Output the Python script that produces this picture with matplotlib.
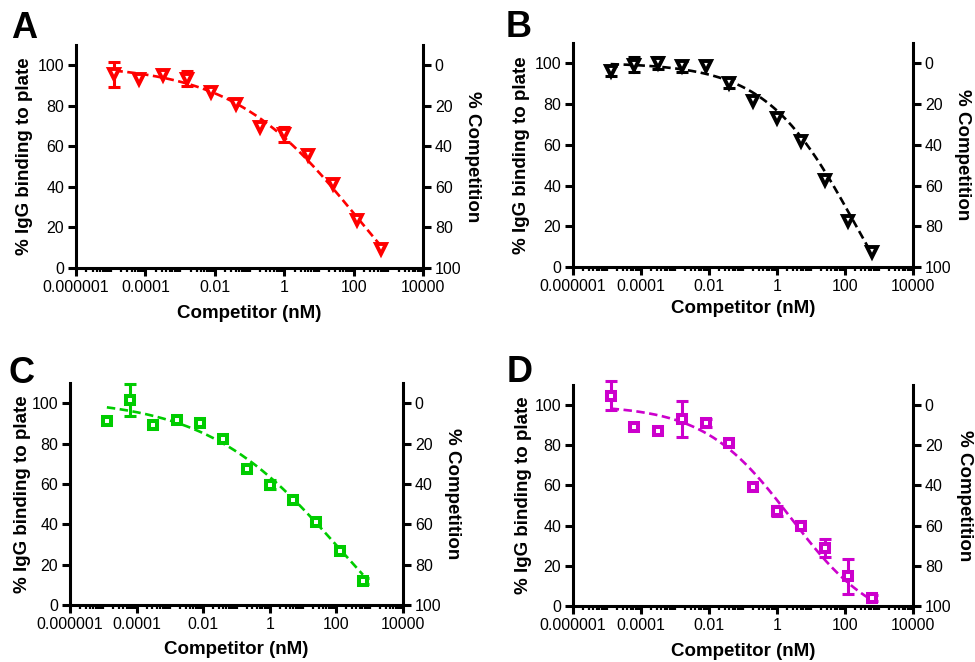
import numpy as np
import matplotlib
matplotlib.use("Agg")
import matplotlib.pyplot as plt
from matplotlib.ticker import LogLocator, FixedLocator, FixedFormatter, NullFormatter

plt.rcParams['font.family'] = ['Liberation Sans', 'DejaVu Sans']

# ---------------- data ----------------
conc_nM = [1.28e-5, 6.4e-5, 3.2e-4, 1.6e-3, 8e-3, 0.04, 0.2, 1, 5, 25, 125, 625]

binding_A = [95.6, 93.1, 95.4, 93.4, 86.6, 80.7, 69.7, 65.9, 55.6, 41.2, 23.9, 9.6]
error_A = [6.2, 0, 0, 3.7, 0, 0, 0, 3.7, 0, 0, 0, 0]

binding_B = [96.2, 99.4, 100.2, 98.5, 98.7, 90.4, 81.4, 73.3, 61.8, 42.9, 22.7, 7.6]
error_B = [2.5, 3.5, 3.0, 2.5, 0, 2.5, 0, 0, 0, 0, 0, 0]

binding_C = [91.2, 101.5, 89.2, 91.7, 90.0, 82.1, 67.2, 59.7, 52.2, 41.1, 27.0, 11.9]
error_C = [0, 7.8, 0, 0, 0, 0, 0, 2.0, 0, 0, 0, 1.5]

binding_D = [104.7, 89.2, 87.2, 93.0, 91.2, 81.3, 59.3, 47.2, 39.7, 28.8, 14.7, 3.8]
error_D = [7.3, 0, 0, 9.1, 2.0, 0, 0, 2.5, 0, 4.6, 8.9, 1.5]

# fitted four-parameter logistic curves: top, bottom, logIC50, hill slope
fit_top = [100.5, 100.3, 102.5, 100.0]
fit_bottom = [-50.5, -58.3, -47.0, -12.0]
fit_logic50 = [2.1, 2.3, 2.1, 0.4]
fit_hill = [0.239, 0.33, 0.215, 0.34]

panel_letters = ['A', 'B', 'C', 'D']
panel_colors = ['#FF0000', '#000000', '#00CC00', '#CC00CC']
panel_markers = ['v', 'v', 's', 's']

x_ticks = [1e-6, 1e-4, 1e-2, 1, 100, 1e4]
x_ticklabels = ['0.000001', '0.0001', '0.01', '1', '100', '10000']
y_ticks = [0, 20, 40, 60, 80, 100]
comp_ticks = [0, 20, 40, 60, 80, 100]

x_label = 'Competitor (nM)'
y_label = '% IgG binding to plate'
y2_label = '% Competition'

# ---------------- layout (pixel geometry of the 975x662 figure) ----------------
W, H = 975, 662
# left, right, top(y=110), bottom(y=0) in pixels
axes_px = [(76, 423, 45, 268), (573, 913, 43, 267), (70, 403, 383, 605), (573, 913, 385, 606)]
letter_px = [(11, 38), (506, 37), (9, 383), (507, 382)]
ylab_px = [25, 522, 23, 524]
y2lab_px = [472, 962, 453, 965]
xlab_py = [313, 309, 650, 651]

fig = plt.figure(figsize=(W / 100, H / 100), dpi=100)

LW = 2.2
TICK_FS = 11.5
LAB_FS = 13.5


def fx(px):
    return px / W


def fy(py):
    return 1 - py / H


for i in range(4):
    l, r, t, b = axes_px[i]
    ax = fig.add_axes([fx(l), fy(b), (r - l) / W, (b - t) / H])
    color = panel_colors[i]
    x = np.array(conc_nM)
    y = np.array([binding_A, binding_B, binding_C, binding_D][i])
    e = np.array([error_A, error_B, error_C, error_D][i])

    ax.set_xscale('log')
    ax.set_xlim(1e-6, 1e4)
    ax.set_ylim(0, 110)
    ax.patch.set_alpha(0)

    # fitted curve
    xs = np.logspace(np.log10(x[0]), np.log10(x[-1]), 300)
    T, Bt, L, h = fit_top[i], fit_bottom[i], fit_logic50[i], fit_hill[i]
    ys = Bt + (T - Bt) / (1 + 10 ** (h * (np.log10(xs) - L)))
    ax.plot(xs, ys, color=color, lw=1.9, linestyle=(0, (3.2, 1.7)), zorder=2)

    # error bars (only where an error is visible)
    m = e > 0
    ax.errorbar(x[m], y[m], yerr=e[m], fmt='none', ecolor=color, elinewidth=LW,
                capsize=4.6, capthick=LW, zorder=3, clip_on=False)
    if panel_markers[i] == 'v':
        ax.plot(x, y, linestyle='none', marker='v', ms=7.6, mfc='white', mec=color,
                mew=2.8, zorder=4, clip_on=False)
    else:
        ax.plot(x, y, linestyle='none', marker='s', ms=5.8, mfc='white', mec=color,
                mew=2.9, zorder=4, clip_on=False)

    for s in ['top', 'right']:
        ax.spines[s].set_visible(False)
    for s in ['left', 'bottom']:
        ax.spines[s].set_linewidth(LW)

    ax.xaxis.set_major_locator(FixedLocator(x_ticks))
    ax.xaxis.set_major_formatter(FixedFormatter(x_ticklabels))
    ax.xaxis.set_minor_locator(LogLocator(base=10, subs=np.arange(1, 10), numticks=200))
    ax.xaxis.set_minor_formatter(NullFormatter())
    ax.set_yticks(y_ticks)
    ax.tick_params(axis='both', which='major', direction='out', length=5.5, width=LW,
                   labelsize=TICK_FS, pad=3)
    ax.tick_params(axis='x', which='minor', direction='out', length=3.2, width=1.6)
    ax.tick_params(axis='y', which='minor', left=False)

    ax2 = ax.twinx()
    ax2.set_ylim(100, -10)
    ax2.set_yticks(comp_ticks)
    for s in ['top', 'left', 'bottom']:
        ax2.spines[s].set_visible(False)
    ax2.spines['right'].set_linewidth(LW)
    ax2.tick_params(axis='y', which='major', direction='out', length=5.5, width=LW,
                    labelsize=TICK_FS, pad=3)

    # labels
    fig.text(fx(ylab_px[i]), fy((t + b) / 2), y_label, rotation=90, ha='center', va='center',
             fontsize=LAB_FS, fontweight='bold')
    fig.text(fx(y2lab_px[i]), fy((t + b) / 2), y2_label, rotation=270, ha='center', va='center',
             fontsize=LAB_FS, fontweight='bold')
    fig.text(fx((l + r) / 2), fy(xlab_py[i]), x_label, ha='center', va='center',
             fontsize=LAB_FS, fontweight='bold')
    fig.text(fx(letter_px[i][0]), fy(letter_px[i][1]), panel_letters[i], ha='left',
             va='baseline', fontsize=26, fontweight='bold')

fig.savefig('out.png', dpi=100)
